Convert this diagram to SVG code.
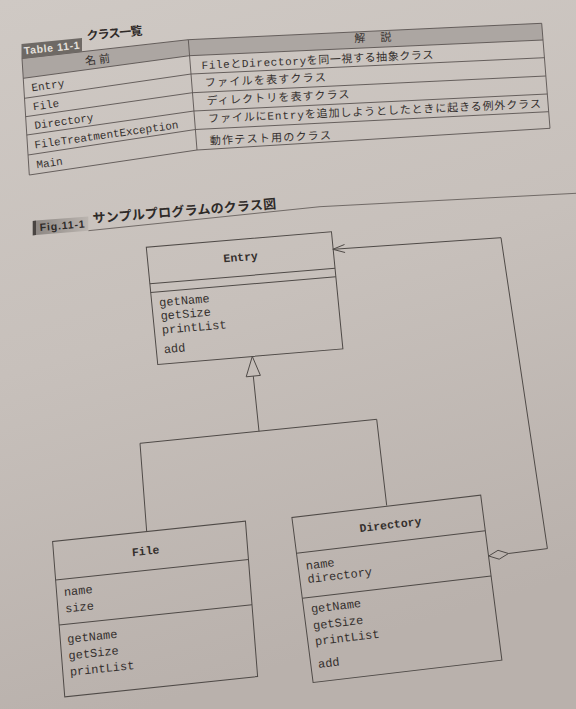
<svg xmlns="http://www.w3.org/2000/svg" width="576" height="709" viewBox="0 0 576 709">
<defs>
<linearGradient id="bg" x1="0" y1="0" x2="0.25" y2="1">
<stop offset="0" stop-color="#cfc9c4"/>
<stop offset="0.5" stop-color="#c7c0bb"/>
<stop offset="1" stop-color="#b9b1ac"/>
</linearGradient>
<linearGradient id="figlab" x1="0" y1="0" x2="1" y2="0">
<stop offset="0" stop-color="#8d8783"/>
<stop offset="1" stop-color="#bbb5b0"/>
</linearGradient>
<style>
.ln{fill:none;stroke:#4f4a47;stroke-width:1}
.thin{fill:none;stroke:#5a5451;stroke-width:0.9}
.hdr{fill:#aca6a2;stroke:none}
.mono{font-family:"Liberation Mono","DejaVu Sans Mono",monospace;fill:#35302e}
.m12{font-size:12px}
.ttl{font-size:11.5px;font-weight:bold;text-anchor:middle}
.jp{font-family:"Liberation Mono","Noto Sans CJK JP",sans-serif;fill:#35302e;font-size:11px}
.jpb{font-family:"Noto Sans CJK JP",sans-serif;font-weight:bold;fill:#2e2a28}
.lab{font-family:"Liberation Sans",Arial,sans-serif;font-weight:bold}
</style>
</defs>
<rect width="576" height="709" fill="url(#bg)"/>

<g id="table">
<polygon class="hdr" points="22,58.5 188.3,39.7 189.56,55.7 23.27,78.3"/>
<polygon class="hdr" points="188.3,39.7 541.7,23.3 543.02,40 189.56,55.7"/>
<polyline class="thin" points="22,58.5 188.3,39.7 541.7,23.3"/>
<polyline class="thin" points="23.27,78.3 189.56,55.7 543.02,40"/>
<polyline class="thin" points="24.51,98.3 191.01,74 544.42,57.7"/>
<polyline class="thin" points="25.66,116.7 192.48,92.7 545.86,76"/>
<polyline class="thin" points="26.8,135 193.93,111 547.29,94"/>
<polyline class="thin" points="28.05,155 195.39,129.5 548.68,111.7"/>
<polyline class="thin" points="29.3,175 197,150 550,128.3"/>
<line class="thin" x1="22" y1="58.5" x2="29.3" y2="175"/>
<line class="thin" x1="188.3" y1="39.7" x2="197" y2="150"/>
<line class="thin" x1="541.7" y1="23.3" x2="550" y2="128.3"/>
<polygon points="21.5,44 82,38 82,51.7 21.5,58.7" fill="#6e6965"/>
<text class="lab" x="52" y="51.5" font-size="10.5" fill="#e4e0dc" text-anchor="middle" textLength="56" transform="rotate(-6 52 51.5)">Table 11-1</text>
<text class="jpb" x="87" y="40" font-size="12" textLength="56" transform="rotate(-5.5 87 40)">クラス一覧</text>
<text class="jp" x="98" y="63.5" text-anchor="middle" textLength="25" transform="rotate(-7 98 63.5)">名 前</text>
<text class="jp" x="373" y="41.5" text-anchor="middle" textLength="37" transform="rotate(-2.6 373 41.5)">解　説</text>
<text class="mono" font-size="11" x="32" y="91.3" transform="rotate(-8 32 91.3)">Entry</text>
<text class="mono" font-size="11" x="33.5" y="110.3" transform="rotate(-8 33.5 110.3)">File</text>
<text class="mono" font-size="11" x="35" y="129" transform="rotate(-8 35 129)">Directory</text>
<text class="mono" font-size="11" x="35" y="148.4" transform="rotate(-8 35 148.4)">FileTreatmentException</text>
<text class="mono" font-size="11" x="37" y="168.3" transform="rotate(-8 37 168.3)">Main</text>
<text class="jp" x="201.7" y="69" textLength="232" transform="rotate(-2.6 201.7 69)">FileとDirectoryを同一視する抽象クラス</text>
<text class="jp" x="205" y="86.5" textLength="121" transform="rotate(-2.6 205 86.5)">ファイルを表すクラス</text>
<text class="jp" x="206.7" y="104.5" textLength="143" transform="rotate(-2.6 206.7 104.5)">ディレクトリを表すクラス</text>
<text class="jp" x="208.3" y="122.5" textLength="333" transform="rotate(-2.6 208.3 122.5)">ファイルにEntryを追加しようとしたときに起きる例外クラス</text>
<text class="jp" x="210" y="144.5" textLength="121" transform="rotate(-2.6 210 144.5)">動作テスト用のクラス</text>
</g>

<g id="figtitle">
<polyline points="88.3,230.7 320,206.7 576,193.3" fill="none" stroke="#66605c" stroke-width="0.9"/>
<polygon points="36,220.5 88.3,216.5 88.3,230.7 36,235" fill="url(#figlab)"/>
<polygon points="32.7,221 36,220.5 36,235 32.7,235.5" fill="#4a4542"/>
<text class="lab" x="40" y="231" font-size="10.5" fill="#2f2b29" textLength="45" transform="rotate(-4.5 40 231)">Fig.11-1</text>
<text class="jpb" x="93" y="223" font-size="13" textLength="184" transform="rotate(-4.6 93 223)">サンプルプログラムのクラス図</text>
</g>

<g id="entry" transform="matrix(0.9965 -0.0837 0.0973 0.9953 146.3 247.3)">
<rect class="ln" x="0" y="0" width="185.8" height="117.7"/>
<line class="ln" x1="0" y1="36.7" x2="185.8" y2="36.7"/>
<line class="ln" x1="0" y1="45.3" x2="185.8" y2="45.3"/>
<text class="mono ttl" x="93" y="21.5">Entry</text>
<text class="mono m12" x="7.5" y="60">getName</text>
<text class="mono m12" x="7.5" y="73.5">getSize</text>
<text class="mono m12" x="7.5" y="87.5">printList</text>
<text class="mono m12" x="7.5" y="107">add</text>
</g>

<g id="file" transform="matrix(0.9946 -0.1050 0.0780 0.9971 52.6 541.5)">
<rect class="ln" x="0" y="0" width="193.9" height="155.8"/>
<line class="ln" x1="0" y1="38.5" x2="193.9" y2="38.5"/>
<line class="ln" x1="0" y1="83.8" x2="193.9" y2="83.8"/>
<text class="mono ttl" x="92" y="23">File</text>
<text class="mono m12" x="7.3" y="55.5">name</text>
<text class="mono m12" x="7.3" y="72">size</text>
<text class="mono m12" x="7" y="102.5">getName</text>
<text class="mono m12" x="7" y="119">getSize</text>
<text class="mono m12" x="7" y="135.5">printList</text>
</g>

<g id="directory" transform="matrix(0.9932 -0.1176 0.1275 0.9919 291.9 517.5)">
<rect class="ln" x="0" y="0" width="190.1" height="166.3"/>
<line class="ln" x1="0" y1="36" x2="190.1" y2="36"/>
<line class="ln" x1="0" y1="81.4" x2="190.1" y2="81.4"/>
<text class="mono ttl" x="96.8" y="22.5">Directory</text>
<text class="mono m12" x="7.7" y="53.5">name</text>
<text class="mono m12" x="7.7" y="67">directory</text>
<text class="mono m12" x="7.2" y="97">getName</text>
<text class="mono m12" x="7.2" y="113.8">getSize</text>
<text class="mono m12" x="7.2" y="129.6">printList</text>
<text class="mono m12" x="7.2" y="152.6">add</text>
</g>

<g id="connectors">
<polygon class="ln" points="252.3,356.4 260.4,375.4 246.2,376.8"/>
<line class="ln" x1="253.3" y1="376.1" x2="259" y2="431.3"/>
<line class="ln" x1="140" y1="443.3" x2="376.7" y2="419.3"/>
<line class="ln" x1="140" y1="443.3" x2="146.7" y2="531.7"/>
<line class="ln" x1="376.7" y1="419.3" x2="386.7" y2="505.5"/>
<polygon class="ln" points="488.7,556 498,550.3 508.5,553.5 499.2,559.2"/>
<polyline class="ln" points="508.5,553.5 547.4,548.6 501,237.7 333,249.3"/>
<polyline class="ln" points="344.5,244.5 332.8,249.3 345.1,252.5"/>
</g>
</svg>
